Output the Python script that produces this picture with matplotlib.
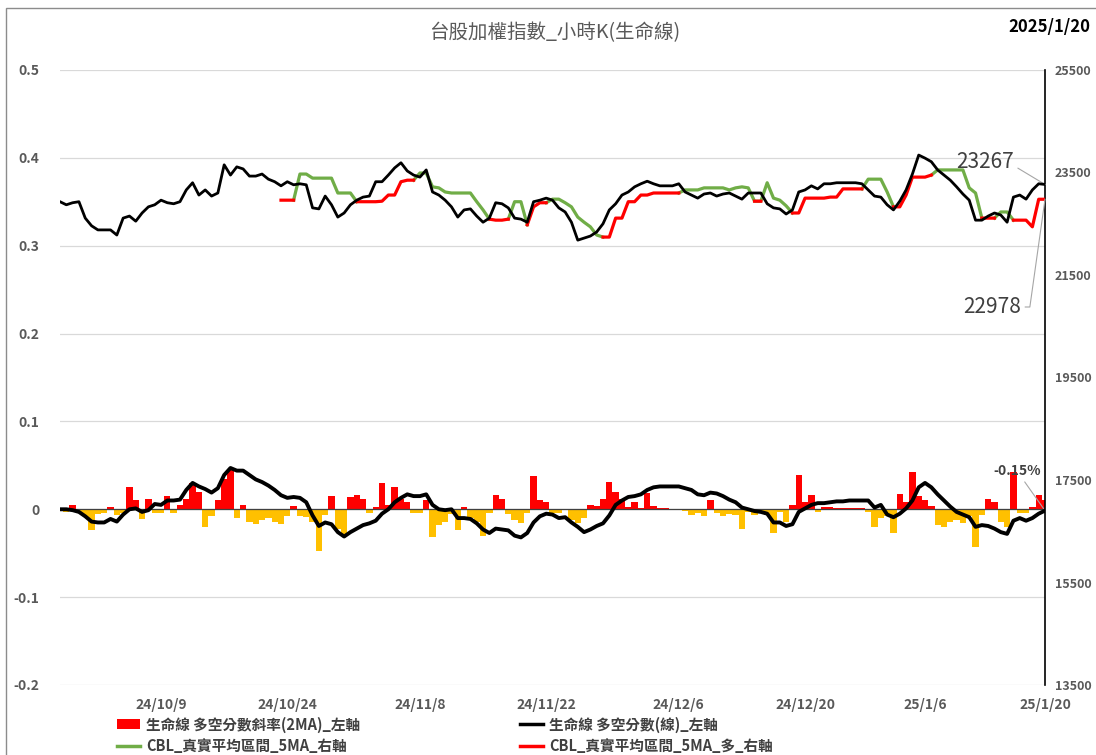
"""TAIEX hourly chart: life-line score, its slope and the CBL band."""

import matplotlib

matplotlib.use("Agg")
import matplotlib.pyplot as plt
import numpy as np
from matplotlib.lines import Line2D
from matplotlib.patches import Patch, Rectangle

plt.rcParams["font.family"] = ["Noto Sans CJK TC", "DejaVu Sans"]
plt.rcParams["axes.unicode_minus"] = False

TITLE = "台股加權指數_小時K(生命線)"
DATE_STAMP = "2025/1/20"

# x-axis: one slot per half trading day
TICK_POS = [16, 36, 57, 77, 98, 118, 137, 156]
TICK_LABELS = ["24/10/9", "24/10/24", "24/11/8", "24/11/22", "24/12/6", "24/12/20", "25/1/6", "25/1/20"]

# TAIEX close (right axis)
index_close = [
    22930, 22870, 22910, 22930, 22610, 22460, 22380, 22380, 22380, 22280,
    22610, 22650, 22550, 22710, 22830, 22870, 22960, 22910, 22890, 22930,
    23160, 23300, 23060, 23160, 23040, 23100, 23650, 23450, 23610, 23570,
    23430, 23430, 23470, 23370, 23320, 23240, 23320, 23260, 23280, 23260,
    22810, 22790, 23040, 22870, 22630, 22710, 22870, 22960, 23020, 23040,
    23320, 23320, 23450, 23590, 23690, 23530, 23450, 23410, 23550, 23120,
    23060, 22960, 22830, 22630, 22770, 22790, 22650, 22530, 22610, 22910,
    22890, 22810, 22610, 22590, 22530, 22930, 22960, 23000, 22960, 22810,
    22730, 22530, 22180, 22220, 22260, 22340, 22500, 22770, 22890, 23060,
    23120, 23220, 23280, 23330, 23280, 23240, 23240, 23240, 23280, 23120,
    23060, 23000, 23080, 23100, 23040, 23080, 23100, 23040, 22980, 23100,
    23100, 23100, 22890, 22810, 22790, 22690, 22770, 23120, 23160, 23240,
    23180, 23280, 23280, 23300, 23300, 23300, 23300, 23280, 23160, 23040,
    23020, 22870, 22770, 22940, 23160, 23470, 23840, 23780, 23710, 23550,
    23450, 23350, 23220, 23080, 22960, 22570, 22570, 22650, 22710, 22670,
    22530, 23020, 23060, 22980, 23160, 23280, 23267,
]

# CBL true-range band 5MA (right axis); side R = long (red), G = otherwise (green)
cbl = [None] * 35 + [
    22960, 22960, 22960, 23470, 23470,                      # 35-39
    23390, 23390, 23390, 23390, 23100, 23100, 23100,        # 40-46
    22930, 22930, 22930, 22930, 22940, 23060, 23060,        # 47-53
    23320, 23350, 23350, 23490, 23490, 23220, 23200,        # 54-60
    23120, 23100, 23100, 23100, 23100, 22930, 22770,        # 61-67
    22590, 22570, 22570, 22590, 22930, 22930, 22480,        # 68-74
    22830, 22910, 22910, 22980, 22980, 22910, 22830,        # 75-81
    22630, 22530, 22440, 22280, 22240, 22240, 22610,        # 82-88
    22610, 22930, 22930, 23060, 23060, 23100, 23100,        # 89-95
    23100, 23100, 23100, 23160, 23160, 23160, 23200,        # 96-102
    23200, 23200, 23200, 23160, 23200, 23220, 23200,        # 103-109
    22940, 22940, 23300, 23000, 22960, 22850, 22710,        # 110-116
    22710, 23000, 23000, 23000, 23000, 23020, 23020,        # 117-123
    23180, 23180, 23180, 23180, 23370, 23370, 23370,        # 124-130
    23120, 22830, 22830, 23060, 23410, 23410, 23410,        # 131-137
    23450, 23550, 23550, 23550, 23550, 23550, 23200,        # 138-144
    23100, 22610, 22610, 22610, 22730, 22730, 22570,        # 145-151
    22570, 22570, 22440, 22978, 22978,                      # 152-156
]
cbl_side = (
    "-" * 35
    + "RRR" + "GGGGGGGGG" + "RRRRRRRRRR" + "GGGGGGGGGGG" + "RRRR" + "GG" + "RRRR"
    + "GGGGGGGG" + "RRRRRRRRRRRRR" + "GGGGGGGGGGG" + "RR" + "GGGG" + "RRRRRRRRRRRR"
    + "GGGG" + "RRRRRRR" + "GGGGGGG" + "RRR" + "GG" + "RRRRRR"
)

# life-line long/short score (left axis)
score = [
    0.000, 0.000, -0.001, -0.003, -0.008, -0.014, -0.015, -0.015, -0.011, -0.014,
    -0.006, 0.000, 0.001, -0.003, -0.001, 0.006, 0.005, 0.010, 0.010, 0.011,
    0.022, 0.030, 0.026, 0.023, 0.019, 0.024, 0.039, 0.047, 0.044, 0.044,
    0.039, 0.034, 0.031, 0.027, 0.022, 0.016, 0.013, 0.014, 0.013, 0.008,
    -0.007, -0.019, -0.015, -0.017, -0.026, -0.031, -0.026, -0.022, -0.018, -0.016,
    -0.013, -0.005, 0.000, 0.008, 0.013, 0.017, 0.015, 0.015, 0.017, 0.005,
    0.000, -0.001, 0.000, -0.010, -0.010, -0.011, -0.016, -0.023, -0.027, -0.022,
    -0.023, -0.024, -0.030, -0.032, -0.027, -0.015, -0.008, -0.005, -0.006, -0.010,
    -0.009, -0.015, -0.020, -0.026, -0.023, -0.019, -0.016, -0.007, 0.005, 0.010,
    0.014, 0.015, 0.017, 0.022, 0.025, 0.026, 0.026, 0.026, 0.026, 0.024,
    0.022, 0.017, 0.016, 0.019, 0.018, 0.015, 0.011, 0.008, 0.002, 0.000,
    -0.002, -0.003, -0.005, -0.015, -0.015, -0.019, -0.017, -0.003, 0.001, 0.005,
    0.007, 0.007, 0.008, 0.009, 0.009, 0.010, 0.010, 0.010, 0.010, 0.002,
    0.005, -0.006, -0.009, -0.005, 0.001, 0.010, 0.025, 0.030, 0.025, 0.017,
    0.010, 0.003, -0.003, -0.006, -0.009, -0.020, -0.018, -0.019, -0.022, -0.026,
    -0.028, -0.013, -0.010, -0.013, -0.010, -0.005, -0.0015,
]

# slope of the score, 2MA (left axis bars)
slope = [
    0.000, -0.003, 0.005, -0.004, -0.008, -0.024, -0.005, -0.004, 0.003, -0.006,
    -0.004, 0.025, 0.010, -0.011, 0.012, -0.004, -0.004, 0.015, -0.004, 0.005,
    0.012, 0.030, 0.020, -0.020, -0.008, 0.011, 0.035, 0.045, -0.010, 0.005,
    -0.015, -0.017, -0.012, -0.010, -0.014, -0.017, -0.008, 0.004, -0.008, -0.009,
    -0.015, -0.048, -0.006, 0.015, -0.022, -0.030, 0.014, 0.016, 0.012, -0.004,
    0.003, 0.030, 0.005, 0.025, 0.012, 0.008, -0.004, -0.004, 0.010, -0.032,
    -0.018, -0.015, -0.005, -0.024, 0.003, -0.010, -0.014, -0.030, -0.004, 0.016,
    0.012, -0.005, -0.012, -0.016, -0.004, 0.038, 0.011, 0.008, -0.004, -0.004,
    0.000, -0.012, -0.016, -0.010, 0.005, 0.004, 0.012, 0.031, 0.020, 0.012,
    0.003, 0.008, 0.002, 0.018, 0.004, 0.002, 0.001, 0.000, 0.000, -0.002,
    -0.006, -0.004, -0.008, 0.010, -0.004, -0.008, -0.005, -0.006, -0.022, -0.003,
    -0.006, -0.002, -0.006, -0.027, -0.003, -0.015, 0.005, 0.039, 0.008, 0.016,
    -0.003, 0.003, 0.003, 0.001, 0.001, 0.001, 0.002, 0.001, -0.003, -0.020,
    -0.010, -0.008, -0.027, 0.017, 0.008, 0.042, 0.015, 0.010, 0.004, -0.018,
    -0.020, -0.015, -0.012, -0.016, -0.008, -0.043, -0.006, 0.012, 0.008, -0.015,
    -0.020, 0.042, -0.004, -0.004, 0.003, 0.016, 0.010,
]

RED = "#FF0000"
ORANGE = "#FFC000"
GREEN = "#70AD47"
TEXT_GRAY = "#595959"
DARK_GRAY = "#404040"

x = np.arange(len(index_close))
slope_arr = np.array(slope)
cbl_arr = np.array(cbl, dtype=float)
long_mask = np.array([c == "R" for c in cbl_side])
short_mask = np.array([c == "G" for c in cbl_side])
# green segments take in their neighbours so both colours join up
green_mask = short_mask.copy()
green_mask[1:] |= short_mask[:-1]
green_mask[:-1] |= short_mask[1:]
cbl_green = np.where(green_mask, cbl_arr, np.nan)
cbl_red = np.where(long_mask, cbl_arr, np.nan)

W, H = 1096, 755
fig = plt.figure(figsize=(W / 100, H / 100), dpi=100)
fig.patches.append(
    Rectangle((6 / W, -0.05), 1.0, (H - 8) / H + 0.05, transform=fig.transFigure,
              fill=False, edgecolor="#8c8c8c", linewidth=1.0)
)
ax = fig.add_axes([60 / W, 70 / H, 985 / W, 615 / H])
ax2 = ax.twinx()

# left axis: slope bars + score line
ax.bar(x, slope_arr, width=1.0, color=np.where(slope_arr >= 0, RED, ORANGE), linewidth=0, zorder=2)
ax.axhline(0, color=DARK_GRAY, linewidth=0.9, zorder=3)
ax.plot(x, score, color="black", linewidth=2.8, solid_capstyle="round", zorder=4)
left_ticks = np.round(np.arange(-0.2, 0.51, 0.1), 1)
ax.set_ylim(-0.2, 0.5)
ax.set_yticks(left_ticks, [f"{v:g}" for v in left_ticks])
ax.yaxis.grid(True, color="#D9D9D9", linewidth=0.9)
ax.set_axisbelow(True)
ax.set_xlim(0, len(index_close) - 1)
ax.set_xticks(TICK_POS, TICK_LABELS)
ax.tick_params(axis="x", length=0, pad=9, labelsize=10, labelcolor=TEXT_GRAY)
ax.tick_params(axis="y", length=0, pad=15, labelsize=10, labelcolor=TEXT_GRAY)
for spine in ax.spines.values():
    spine.set_visible(False)

# right axis: index + CBL band
ax2.plot(x, cbl_green, color=GREEN, linewidth=2.3, zorder=2)
ax2.plot(x, cbl_red, color=RED, linewidth=2.3, zorder=3)
ax2.plot(x, index_close, color="black", linewidth=2.0, zorder=4)
ax2.set_ylim(13500, 25500)
ax2.set_yticks(range(13500, 25501, 2000))
ax2.tick_params(axis="y", length=0, pad=7, labelsize=9, labelcolor=TEXT_GRAY)
for name, spine in ax2.spines.items():
    spine.set_visible(name == "right")
ax2.spines["right"].set_color("black")
ax2.spines["right"].set_linewidth(1.2)

for lbl in ax.get_xticklabels() + ax.get_yticklabels() + ax2.get_yticklabels():
    lbl.set_fontweight("bold")

# call-outs for the latest values
ax2.annotate(
    f"{index_close[-1]}", xy=(x[-1], index_close[-1]), xytext=(985 / W, 1 - 162 / H),
    textcoords="figure fraction", ha="center", va="center", fontsize=15, color=DARK_GRAY,
    arrowprops=dict(arrowstyle="-", color="#A6A6A6", linewidth=0.8, shrinkA=1, shrinkB=0,
                    connectionstyle="angle,angleA=0,angleB=-31,rad=0"),
)
ax2.annotate(
    f"{cbl[-1]}", xy=(x[-1], cbl[-1]), xytext=(992 / W, 1 - 307 / H),
    textcoords="figure fraction", ha="center", va="center", fontsize=15, color=DARK_GRAY,
    arrowprops=dict(arrowstyle="-", color="#A6A6A6", linewidth=0.8, shrinkA=1, shrinkB=0,
                    connectionstyle="angle,angleA=0,angleB=82,rad=0"),
)
ax.annotate(
    f"{score[-1]:.2%}", xy=(x[-1], score[-1]), xytext=(1017 / W, 1 - 471 / H),
    textcoords="figure fraction", ha="center", va="center", fontsize=10, fontweight="bold",
    color=DARK_GRAY,
    arrowprops=dict(arrowstyle="-", color="#A6A6A6", linewidth=0.8, shrinkA=1, shrinkB=0),
)

fig.text(555 / W, 1 - 33 / H, TITLE, ha="center", va="center", fontsize=14, color=TEXT_GRAY)
fig.text(1090 / W, 1 - 27 / H, DATE_STAMP, ha="right", va="center", fontsize=12,
         fontweight="bold", color="black")

legend_font = {"size": 10.5, "weight": "bold"}
legend_kw = dict(loc="center left", frameon=False, prop=legend_font, labelcolor=DARK_GRAY,
                 handlelength=1.6, handletextpad=0.4, labelspacing=0.35,
                 borderpad=0, borderaxespad=0)
fig.legend(
    handles=[Patch(facecolor=RED, edgecolor="none"), Line2D([], [], color=GREEN, linewidth=2.5)],
    labels=["生命線 多空分數斜率(2MA)_左軸", "CBL_真實平均區間_5MA_右軸"],
    bbox_to_anchor=(117 / W, 1 - 735 / H), **legend_kw,
)
fig.legend(
    handles=[Line2D([], [], color="black", linewidth=2.5), Line2D([], [], color=RED, linewidth=2.5)],
    labels=["生命線 多空分數(線)_左軸", "CBL_真實平均區間_5MA_多_右軸"],
    bbox_to_anchor=(520 / W, 1 - 735 / H), **legend_kw,
)

fig.savefig("out.png", dpi=100)
plt.close(fig)
